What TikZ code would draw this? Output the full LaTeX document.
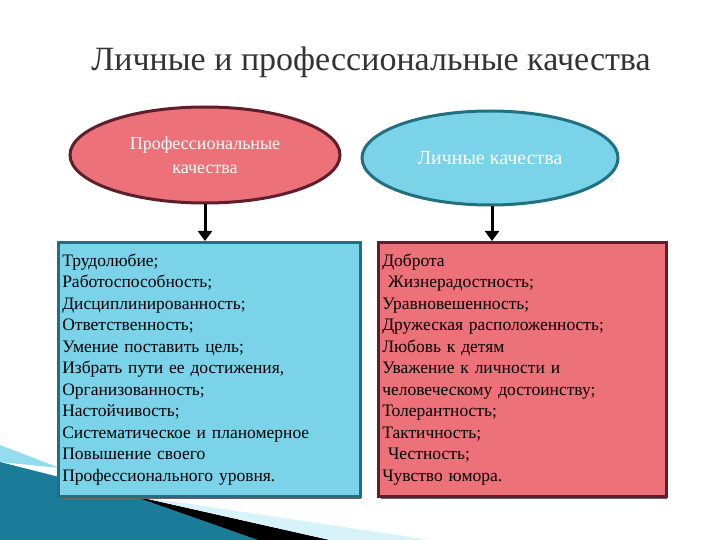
\documentclass[tikz,border=0pt]{standalone}
\usepackage{fontspec}
\setmainfont{Liberation Serif}
\usetikzlibrary{shapes.geometric,arrows.meta}
\definecolor{pinkf}{HTML}{EC7179}
\definecolor{maroon}{HTML}{5E1E2C}
\definecolor{cyanf}{HTML}{7BD3EA}
\definecolor{tealb}{HTML}{21707F}
\definecolor{teald}{HTML}{1A7C98}
\tikzset{
 ell/.style={ellipse,line width=3pt,minimum width=270pt,minimum height=96pt,align=center,text=white,font=\fontsize{18}{24}\selectfont},
 box/.style={line width=2.5pt,minimum width=300pt,minimum height=254pt,align=left,anchor=north west,text width=294pt,inner sep=4pt,font=\fontsize{17.5}{21.5}\selectfont},
 arr/.style={line width=3pt,-{Triangle[length=10pt,width=14pt]}}
}
\begin{document}
\begin{tikzpicture}[x=1pt,y=-1pt]
\useasboundingbox (0,0) rectangle (720,540);
\fill[white] (0,0) rectangle (720,540);
\fill[cyanf!80!white] (0,445) -- (60,468) -- (0,462) -- cycle;
\fill[teald] (0,462) -- (130,495) -- (258,540) -- (0,540) -- cycle;
\fill[black] (130,495) -- (330,540) -- (258,540) -- cycle;
\fill[cyanf!30!white] (130,495) -- (430,540) -- (330,540) -- cycle;
\node[font=\fontsize{34}{38}\selectfont,text=black!80] (title) at (371,62) {Личные и профессиональные качества};
\node[ell,draw=maroon,fill=pinkf] (pe) at (205,155) {Профессиональные\\качества};
\node[ell,draw=tealb,fill=cyanf,minimum width=256pt,minimum height=94pt,font=\fontsize{20}{24}\selectfont] (le) at (490,158) {Личные качества};
\fill[black!60] (61,245) rectangle (361,499);
\fill[black!60] (381,245) rectangle (667,499);
\node[box,draw=tealb,fill=cyanf] (pb) at (57,241) {Трудолюбие;\\Работоспособность;\\Дисциплинированность;\\Ответственность;\\Умение поставить цель;\\Избрать пути ее достижения,\\Организованность;\\Настойчивость;\\Систематическое и планомерное\\Повышение своего\\Профессионального уровня.};
\node[box,draw=maroon,fill=pinkf,minimum width=286pt,text width=280pt] (lb) at (377,241) {Доброта\\\ Жизнерадостность;\\Уравновешенность;\\Дружеская расположенность;\\Любовь к детям\\Уважение к личности и\\человеческому достоинству;\\Толерантность;\\Тактичность;\\\ Честность;\\Чувство юмора.};
\draw[arr] (pe.south) -- (pe.south |- pb.north);
\draw[arr] (le.south -| 492,0) -- (492,241);
\end{tikzpicture}
\end{document}
